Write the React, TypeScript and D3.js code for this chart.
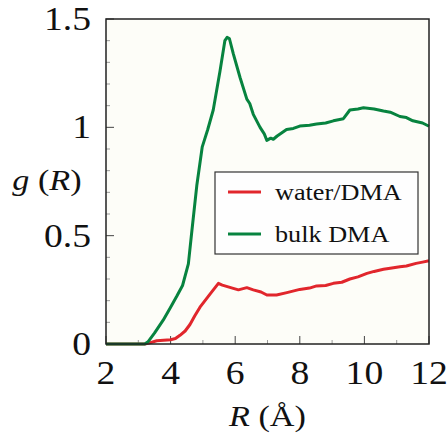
import React from 'react'
import * as d3 from 'd3'

// R in Å, g(R)
const bulkR = [2, 3.0, 3.2, 3.3, 3.5, 3.77, 4.0, 4.19, 4.37, 4.55, 4.65, 4.81, 4.98, 5.15, 5.32, 5.53, 5.68, 5.75, 5.82, 5.94, 6.15, 6.36, 6.45, 6.56, 6.77, 6.9, 6.98, 7.1, 7.18, 7.3, 7.59, 7.8, 8.0, 8.3, 8.52, 8.8, 9.04, 9.35, 9.55, 9.8, 9.97, 10.3, 10.59, 10.8, 11.1, 11.3, 11.5, 11.8, 12]
const bulkG = [0, 0, 0, 0.01, 0.05, 0.11, 0.17, 0.22, 0.27, 0.37, 0.51, 0.73, 0.91, 0.99, 1.08, 1.26, 1.4, 1.415, 1.41, 1.34, 1.23, 1.13, 1.11, 1.06, 1.0, 0.97, 0.94, 0.95, 0.945, 0.96, 0.99, 0.995, 1.006, 1.01, 1.015, 1.02, 1.03, 1.04, 1.08, 1.085, 1.09, 1.085, 1.075, 1.07, 1.05, 1.045, 1.03, 1.02, 1.005]

const waterR = [2, 3.2, 3.3, 3.57, 4.0, 4.15, 4.29, 4.45, 4.6, 4.75, 4.91, 5.22, 5.48, 5.6, 5.94, 6.1, 6.36, 6.56, 6.8, 6.98, 7.28, 7.6, 8.0, 8.3, 8.52, 8.8, 9.04, 9.3, 9.55, 9.8, 10.08, 10.3, 10.59, 10.8, 11.1, 11.3, 11.6, 11.8, 12]
const waterG = [0, 0, 0.003, 0.015, 0.02, 0.025, 0.04, 0.06, 0.09, 0.13, 0.17, 0.23, 0.28, 0.272, 0.257, 0.25, 0.26, 0.25, 0.24, 0.226, 0.226, 0.237, 0.252, 0.258, 0.268, 0.27, 0.28, 0.285, 0.3, 0.31, 0.326, 0.335, 0.345, 0.35, 0.357, 0.36, 0.372, 0.378, 0.384]

const xTicks = [2, 4, 6, 8, 10, 12]
const yTicks = [0, 0.5, 1, 1.5]
const yTickLabels = ['0', '0.5', '1', '1.5']

const series = [
  { name: 'water/DMA', r: waterR, g: waterG, color: '#e1262c' },
  { name: 'bulk DMA', r: bulkR, g: bulkG, color: '#07833f' },
]

const W = 448
const H = 436
const margin = { top: 19, right: 19, bottom: 92, left: 106 }
const serif = { fontFamily: '"Liberation Serif", monospace' }
const sx = 1.14 // text in the picture is a bit wide

export default function App() {
  const x = d3.scaleLinear().domain([2, 12]).range([margin.left, W - margin.right])
  const y = d3.scaleLinear().domain([0, 1.5]).range([H - margin.bottom, margin.top])
  const line = d3
    .line<[number, number]>()
    .x((d) => x(d[0]))
    .y((d) => y(d[1]))

  const xMinor = d3.range(3, 12, 2)
  const yMinor = d3.range(0, 1.5001, 0.1).filter((v) => Math.abs(v * 2 - Math.round(v * 2)) > 1e-6)
  const x0 = x(2)
  const x1 = x(12)
  const y0 = y(0)
  const y1 = y(1.5)

  return (
    <svg width={W} height={H} style={{ position: 'absolute', left: 0, top: 0, background: '#fff' }}>
      <rect x={x0} y={y1} width={x1 - x0} height={y0 - y1} fill="#fdfdf8" />

      <g stroke="#999" strokeWidth={1}>
        {yMinor.map((v) => (
          <line key={'ym' + v} x1={x0} x2={x0 + 4} y1={y(v)} y2={y(v)} />
        ))}
        {xMinor.map((v) => (
          <line key={'xm' + v} x1={x(v)} x2={x(v)} y1={y0} y2={y0 - 4} />
        ))}
      </g>
      <g stroke="#444" strokeWidth={1}>
        {yTicks.map((v) => (
          <line key={'yM' + v} x1={x0} x2={x0 + 8} y1={y(v)} y2={y(v)} />
        ))}
        {xTicks.map((v) => (
          <line key={'xM' + v} x1={x(v)} x2={x(v)} y1={y0} y2={y0 - 8} />
        ))}
      </g>

      {series.map((s) => (
        <path
          key={s.name}
          d={line(s.r.map((r, i) => [r, s.g[i]] as [number, number])) || ''}
          fill="none"
          stroke={s.color}
          strokeWidth={3}
          strokeLinejoin="round"
        />
      ))}

      <rect x={x0} y={y1} width={x1 - x0} height={y0 - y1} fill="none" stroke="#222" strokeWidth={1.5} />

      {/* tick labels */}
      <g fontSize={33} fill="#111">
        {yTicks.map((v, i) => (
          <text key={'yl' + v} style={serif} transform={`translate(${x0 - 15},${y(v) + 11}) scale(${sx},1)`} textAnchor="end">
            {yTickLabels[i]}
          </text>
        ))}
        {xTicks.map((v) => (
          <text key={'xl' + v} style={serif} transform={`translate(${x(v)},${y0 + 40}) scale(${sx},1)`} textAnchor="middle">
            {v}
          </text>
        ))}
      </g>

      {/* axis titles */}
      <text style={serif} transform={`translate(${(x0 + x1) / 2},${H - 10}) scale(${sx},1)`} textAnchor="middle" fontSize={30} fill="#111">
        <tspan fontStyle="italic">R</tspan> (Å)
      </text>
      <text style={serif} transform={`translate(47,${(y0 + y1) / 2 + 8}) scale(${sx},1)`} textAnchor="middle" fontSize={30} fill="#111">
        <tspan fontStyle="italic">g</tspan> (<tspan fontStyle="italic">R</tspan>)
      </text>

      {/* legend */}
      <rect x={215} y={172} width={203} height={82} fill="#fefefe" stroke="#333" strokeWidth={1.2} />
      {series.map((s, i) => (
        <g key={'lg' + s.name}>
          <line x1={228} x2={261} y1={192 + i * 42} y2={192 + i * 42} stroke={s.color} strokeWidth={3} />
          <text style={serif} transform={`translate(275,${200 + i * 42}) scale(${sx},1)`} fontSize={23} fill="#111">
            {s.name}
          </text>
        </g>
      ))}
    </svg>
  )
}
